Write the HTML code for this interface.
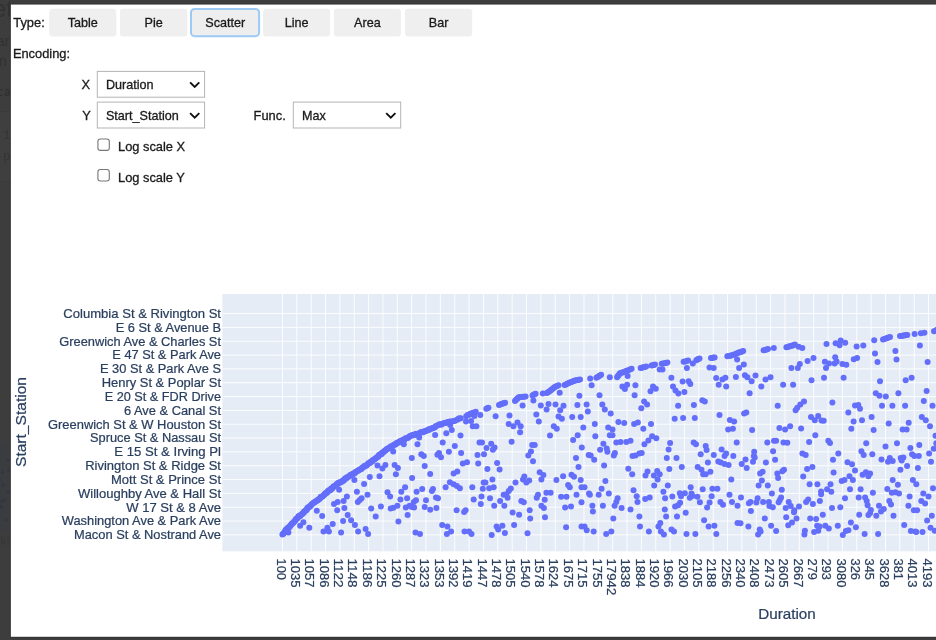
<!DOCTYPE html>
<html><head><meta charset="utf-8"><title>chart</title>
<style>
html,body{margin:0;padding:0}
body{width:936px;height:640px;overflow:hidden;background:#3d3d3d;position:relative;font-family:"Liberation Sans",sans-serif;font-size:12.85px;color:#000}
.ghost{position:absolute;color:#313131;white-space:nowrap;line-height:1}
.band{position:absolute;left:0;top:111px;width:11px;height:69px;background:#3f3f3f;border-top:1px solid #393939;border-bottom:1px solid #393939}
#wrap{position:absolute;left:0;top:0;width:936px;height:640px;overflow:hidden;will-change:transform}
</style></head><body><div id="wrap">
<div class="band"></div>
<div class="ghost" style="left:-6.5px;top:-2.5px;font-size:23px">et</div>
<div class="ghost" style="left:-3px;top:35.4px;font-size:13.9px">ar</div>
<div class="ghost" style="left:-1px;top:55.4px;font-size:13.9px">n</div>
<div class="ghost" style="left:-4px;top:86px;font-size:13px;font-weight:bold;font-family:'Liberation Mono',monospace">ta</div>
<div class="ghost" style="left:-4.5px;top:130px;font-size:12.5px;font-family:'Liberation Mono',monospace;color:#353535">.1</div>
<div class="ghost" style="left:-4.5px;top:151px;font-size:12.5px;font-family:'Liberation Mono',monospace;color:#353535">-p</div>
<svg width="936" height="640" style="position:absolute;left:0;top:0" font-family="Liberation Sans, sans-serif" font-size="12.4px" fill="#2a3f5f" stroke="#2a3f5f" stroke-width="0.22">
<g stroke="none"><rect x="0" y="442" width="11" height="89" fill="#3b3c3f"/>
<g fill="#333543"><circle cx="2.6" cy="472.3" r="1.6"/><circle cx="8.6" cy="470.6" r="1.6"/><circle cx="3.1" cy="485.2" r="1.6"/><circle cx="7.7" cy="492.1" r="1.6"/><circle cx="4.3" cy="499.8" r="1.6"/><circle cx="1.7" cy="501.5" r="1.6"/><circle cx="6" cy="519.6" r="1.6"/><circle cx="7.7" cy="460.3" r="1.6"/><circle cx="0.9" cy="506.7" r="1.6"/></g>
<text transform="translate(0.5,536) rotate(90)" font-size="5px" fill="#343434">1287</text><text transform="translate(7,536) rotate(90)" font-size="5px" fill="#363636">1225</text></g>
<g font-size="12.85px" fill="#1a1a1a" stroke="none"><style>.u text{stroke:#1a1a1a;stroke-width:0.3px}</style><g class="u"><rect x="9.85" y="3.55" width="940" height="634.25" fill="#313131"/><rect x="10.85" y="4.55" width="940" height="632.25" fill="#fff"/><rect x="49.2" y="8.7" width="67.1" height="27.8" rx="3" fill="#efefef"/><text x="82.75" y="26.85" text-anchor="middle" font-size="12.6px">Table</text><rect x="120.0" y="8.7" width="67.3" height="27.8" rx="3" fill="#efefef"/><text x="153.65" y="26.85" text-anchor="middle" font-size="12.6px">Pie</text><rect x="191.0" y="8.9" width="68.1" height="27.3" rx="3.6" fill="#eeeeee" stroke="#9ccaf4" stroke-width="2"/><text x="225.20" y="26.85" text-anchor="middle" font-size="12.6px">Scatter</text><rect x="263.1" y="8.7" width="67.1" height="27.8" rx="3" fill="#efefef"/><text x="296.65" y="26.85" text-anchor="middle" font-size="12.6px">Line</text><rect x="333.9" y="8.7" width="67.0" height="27.8" rx="3" fill="#efefef"/><text x="367.40" y="26.85" text-anchor="middle" font-size="12.6px">Area</text><rect x="405.0" y="8.7" width="67.2" height="27.8" rx="3" fill="#efefef"/><text x="438.60" y="26.85" text-anchor="middle" font-size="12.6px">Bar</text><text x="13.3" y="27.45">Type:</text><text x="12.9" y="58.45">Encoding:</text><rect x="97.3" y="71.4" width="107.3" height="25.8" fill="#fff" stroke="#b4b4b4" stroke-width="1"/><text x="105.9" y="89.1" font-size="12.6px">Duration</text><path d="M190.10 82.40 L194.70 87.00 L199.30 82.40" fill="none" stroke="#111" stroke-width="1.9"/><rect x="97.3" y="102.1" width="107.3" height="25.9" fill="#fff" stroke="#b4b4b4" stroke-width="1"/><text x="105.9" y="119.9" font-size="12.6px">Start_Station</text><path d="M190.10 113.15 L194.70 117.75 L199.30 113.15" fill="none" stroke="#111" stroke-width="1.9"/><rect x="293.3" y="102.1" width="107.4" height="25.9" fill="#fff" stroke="#b4b4b4" stroke-width="1"/><text x="301.9" y="119.9" font-size="12.6px">Max</text><path d="M386.20 113.15 L390.80 117.75 L395.40 113.15" fill="none" stroke="#111" stroke-width="1.9"/><text x="81.6" y="89.2">X</text><text x="82.2" y="119.8">Y</text><text x="253.6" y="119.8">Func.</text><rect x="97.9" y="138.95" width="11.4" height="11.4" rx="2.4" fill="#fff" stroke="#767676" stroke-width="1.1"/><text x="118.0" y="151.3">Log scale X</text><rect x="97.9" y="169.55" width="11.4" height="11.4" rx="2.4" fill="#fff" stroke="#767676" stroke-width="1.1"/><text x="118.0" y="181.9">Log scale Y</text></g></g>
<rect x="222.4" y="294" width="720" height="257.29999999999995" fill="#e5ecf6" stroke="none"/><line x1="282.45" x2="282.45" y1="294" y2="551.3" stroke="#fff" stroke-opacity="0.88" stroke-width="1"/><line x1="296.81" x2="296.81" y1="294" y2="551.3" stroke="#fff" stroke-opacity="0.88" stroke-width="1"/><line x1="311.17" x2="311.17" y1="294" y2="551.3" stroke="#fff" stroke-opacity="0.88" stroke-width="1"/><line x1="325.52" x2="325.52" y1="294" y2="551.3" stroke="#fff" stroke-opacity="0.88" stroke-width="1"/><line x1="339.88" x2="339.88" y1="294" y2="551.3" stroke="#fff" stroke-opacity="0.88" stroke-width="1"/><line x1="354.24" x2="354.24" y1="294" y2="551.3" stroke="#fff" stroke-opacity="0.88" stroke-width="1"/><line x1="368.60" x2="368.60" y1="294" y2="551.3" stroke="#fff" stroke-opacity="0.88" stroke-width="1"/><line x1="382.96" x2="382.96" y1="294" y2="551.3" stroke="#fff" stroke-opacity="0.88" stroke-width="1"/><line x1="397.31" x2="397.31" y1="294" y2="551.3" stroke="#fff" stroke-opacity="0.88" stroke-width="1"/><line x1="411.67" x2="411.67" y1="294" y2="551.3" stroke="#fff" stroke-opacity="0.88" stroke-width="1"/><line x1="426.03" x2="426.03" y1="294" y2="551.3" stroke="#fff" stroke-opacity="0.88" stroke-width="1"/><line x1="440.39" x2="440.39" y1="294" y2="551.3" stroke="#fff" stroke-opacity="0.88" stroke-width="1"/><line x1="454.75" x2="454.75" y1="294" y2="551.3" stroke="#fff" stroke-opacity="0.88" stroke-width="1"/><line x1="469.10" x2="469.10" y1="294" y2="551.3" stroke="#fff" stroke-opacity="0.88" stroke-width="1"/><line x1="483.46" x2="483.46" y1="294" y2="551.3" stroke="#fff" stroke-opacity="0.88" stroke-width="1"/><line x1="497.82" x2="497.82" y1="294" y2="551.3" stroke="#fff" stroke-opacity="0.88" stroke-width="1"/><line x1="512.18" x2="512.18" y1="294" y2="551.3" stroke="#fff" stroke-opacity="0.88" stroke-width="1"/><line x1="526.54" x2="526.54" y1="294" y2="551.3" stroke="#fff" stroke-opacity="0.88" stroke-width="1"/><line x1="540.89" x2="540.89" y1="294" y2="551.3" stroke="#fff" stroke-opacity="0.88" stroke-width="1"/><line x1="555.25" x2="555.25" y1="294" y2="551.3" stroke="#fff" stroke-opacity="0.88" stroke-width="1"/><line x1="569.61" x2="569.61" y1="294" y2="551.3" stroke="#fff" stroke-opacity="0.88" stroke-width="1"/><line x1="583.97" x2="583.97" y1="294" y2="551.3" stroke="#fff" stroke-opacity="0.88" stroke-width="1"/><line x1="598.33" x2="598.33" y1="294" y2="551.3" stroke="#fff" stroke-opacity="0.88" stroke-width="1"/><line x1="612.68" x2="612.68" y1="294" y2="551.3" stroke="#fff" stroke-opacity="0.88" stroke-width="1"/><line x1="627.04" x2="627.04" y1="294" y2="551.3" stroke="#fff" stroke-opacity="0.88" stroke-width="1"/><line x1="641.40" x2="641.40" y1="294" y2="551.3" stroke="#fff" stroke-opacity="0.88" stroke-width="1"/><line x1="655.76" x2="655.76" y1="294" y2="551.3" stroke="#fff" stroke-opacity="0.88" stroke-width="1"/><line x1="670.12" x2="670.12" y1="294" y2="551.3" stroke="#fff" stroke-opacity="0.88" stroke-width="1"/><line x1="684.47" x2="684.47" y1="294" y2="551.3" stroke="#fff" stroke-opacity="0.88" stroke-width="1"/><line x1="698.83" x2="698.83" y1="294" y2="551.3" stroke="#fff" stroke-opacity="0.88" stroke-width="1"/><line x1="713.19" x2="713.19" y1="294" y2="551.3" stroke="#fff" stroke-opacity="0.88" stroke-width="1"/><line x1="727.55" x2="727.55" y1="294" y2="551.3" stroke="#fff" stroke-opacity="0.88" stroke-width="1"/><line x1="741.91" x2="741.91" y1="294" y2="551.3" stroke="#fff" stroke-opacity="0.88" stroke-width="1"/><line x1="756.26" x2="756.26" y1="294" y2="551.3" stroke="#fff" stroke-opacity="0.88" stroke-width="1"/><line x1="770.62" x2="770.62" y1="294" y2="551.3" stroke="#fff" stroke-opacity="0.88" stroke-width="1"/><line x1="784.98" x2="784.98" y1="294" y2="551.3" stroke="#fff" stroke-opacity="0.88" stroke-width="1"/><line x1="799.34" x2="799.34" y1="294" y2="551.3" stroke="#fff" stroke-opacity="0.88" stroke-width="1"/><line x1="813.70" x2="813.70" y1="294" y2="551.3" stroke="#fff" stroke-opacity="0.88" stroke-width="1"/><line x1="828.05" x2="828.05" y1="294" y2="551.3" stroke="#fff" stroke-opacity="0.88" stroke-width="1"/><line x1="842.41" x2="842.41" y1="294" y2="551.3" stroke="#fff" stroke-opacity="0.88" stroke-width="1"/><line x1="856.77" x2="856.77" y1="294" y2="551.3" stroke="#fff" stroke-opacity="0.88" stroke-width="1"/><line x1="871.13" x2="871.13" y1="294" y2="551.3" stroke="#fff" stroke-opacity="0.88" stroke-width="1"/><line x1="885.49" x2="885.49" y1="294" y2="551.3" stroke="#fff" stroke-opacity="0.88" stroke-width="1"/><line x1="899.84" x2="899.84" y1="294" y2="551.3" stroke="#fff" stroke-opacity="0.88" stroke-width="1"/><line x1="914.20" x2="914.20" y1="294" y2="551.3" stroke="#fff" stroke-opacity="0.88" stroke-width="1"/><line x1="928.56" x2="928.56" y1="294" y2="551.3" stroke="#fff" stroke-opacity="0.88" stroke-width="1"/><line x1="942.92" x2="942.92" y1="294" y2="551.3" stroke="#fff" stroke-opacity="0.88" stroke-width="1"/><line x1="222.4" x2="940" y1="534.89" y2="534.89" stroke="#fff" stroke-opacity="0.88" stroke-width="1"/><line x1="222.4" x2="940" y1="521.06" y2="521.06" stroke="#fff" stroke-opacity="0.88" stroke-width="1"/><line x1="222.4" x2="940" y1="507.23" y2="507.23" stroke="#fff" stroke-opacity="0.88" stroke-width="1"/><line x1="222.4" x2="940" y1="493.39" y2="493.39" stroke="#fff" stroke-opacity="0.88" stroke-width="1"/><line x1="222.4" x2="940" y1="479.56" y2="479.56" stroke="#fff" stroke-opacity="0.88" stroke-width="1"/><line x1="222.4" x2="940" y1="465.73" y2="465.73" stroke="#fff" stroke-opacity="0.88" stroke-width="1"/><line x1="222.4" x2="940" y1="451.90" y2="451.90" stroke="#fff" stroke-opacity="0.88" stroke-width="1"/><line x1="222.4" x2="940" y1="438.07" y2="438.07" stroke="#fff" stroke-opacity="0.88" stroke-width="1"/><line x1="222.4" x2="940" y1="424.23" y2="424.23" stroke="#fff" stroke-opacity="0.88" stroke-width="1"/><line x1="222.4" x2="940" y1="410.40" y2="410.40" stroke="#fff" stroke-opacity="0.88" stroke-width="1"/><line x1="222.4" x2="940" y1="396.57" y2="396.57" stroke="#fff" stroke-opacity="0.88" stroke-width="1"/><line x1="222.4" x2="940" y1="382.74" y2="382.74" stroke="#fff" stroke-opacity="0.88" stroke-width="1"/><line x1="222.4" x2="940" y1="368.91" y2="368.91" stroke="#fff" stroke-opacity="0.88" stroke-width="1"/><line x1="222.4" x2="940" y1="355.07" y2="355.07" stroke="#fff" stroke-opacity="0.88" stroke-width="1"/><line x1="222.4" x2="940" y1="341.24" y2="341.24" stroke="#fff" stroke-opacity="0.88" stroke-width="1"/><line x1="222.4" x2="940" y1="327.41" y2="327.41" stroke="#fff" stroke-opacity="0.88" stroke-width="1"/><line x1="222.4" x2="940" y1="313.58" y2="313.58" stroke="#fff" stroke-opacity="0.88" stroke-width="1"/>
<g fill="#636efa" stroke="none"><circle cx="288.4" cy="532.5" r="3"/><circle cx="300.1" cy="525.8" r="3"/><circle cx="303.4" cy="522.3" r="3"/><circle cx="309.3" cy="527.8" r="3"/><circle cx="316.8" cy="510.7" r="3"/><circle cx="322.2" cy="516.1" r="3"/><circle cx="323.5" cy="531.6" r="3"/><circle cx="327.4" cy="527.8" r="3"/><circle cx="328.9" cy="531.6" r="3"/><circle cx="332.7" cy="524.1" r="3"/><circle cx="334.0" cy="504.0" r="3"/><circle cx="337.7" cy="501.9" r="3"/><circle cx="337.2" cy="510.2" r="3"/><circle cx="339.1" cy="489.7" r="3"/><circle cx="341.1" cy="532.5" r="3"/><circle cx="343.1" cy="521.1" r="3"/><circle cx="343.6" cy="501.0" r="3"/><circle cx="344.4" cy="508.1" r="3"/><circle cx="346.9" cy="496.5" r="3"/><circle cx="347.7" cy="514.9" r="3"/><circle cx="351.1" cy="520.3" r="3"/><circle cx="354.4" cy="480.1" r="3"/><circle cx="354.9" cy="524.9" r="3"/><circle cx="356.9" cy="491.8" r="3"/><circle cx="357.8" cy="501.9" r="3"/><circle cx="358.1" cy="531.6" r="3"/><circle cx="359.8" cy="499.9" r="3"/><circle cx="361.6" cy="498.2" r="3"/><circle cx="364.1" cy="484.0" r="3"/><circle cx="365.6" cy="529.1" r="3"/><circle cx="367.5" cy="494.8" r="3"/><circle cx="368.1" cy="534.1" r="3"/><circle cx="369.8" cy="477.1" r="3"/><circle cx="371.2" cy="508.6" r="3"/><circle cx="375.7" cy="516.4" r="3"/><circle cx="377.5" cy="465.6" r="3"/><circle cx="379.5" cy="476.3" r="3"/><circle cx="380.9" cy="506.5" r="3"/><circle cx="382.4" cy="468.4" r="3"/><circle cx="385.4" cy="465.1" r="3"/><circle cx="387.5" cy="492.3" r="3"/><circle cx="390.1" cy="496.5" r="3"/><circle cx="390.7" cy="508.6" r="3"/><circle cx="393.4" cy="507.7" r="3"/><circle cx="393.2" cy="451.4" r="3"/><circle cx="394.6" cy="465.1" r="3"/><circle cx="395.9" cy="474.3" r="3"/><circle cx="397.4" cy="505.7" r="3"/><circle cx="397.9" cy="468.1" r="3"/><circle cx="398.4" cy="521.4" r="3"/><circle cx="400.4" cy="499.4" r="3"/><circle cx="401.3" cy="491.8" r="3"/><circle cx="403.8" cy="444.2" r="3"/><circle cx="405.1" cy="487.3" r="3"/><circle cx="405.8" cy="507.4" r="3"/><circle cx="407.1" cy="498.2" r="3"/><circle cx="407.6" cy="514.9" r="3"/><circle cx="409.6" cy="505.7" r="3"/><circle cx="411.8" cy="457.9" r="3"/><circle cx="412.1" cy="478.1" r="3"/><circle cx="411.8" cy="506.9" r="3"/><circle cx="414.1" cy="507.4" r="3"/><circle cx="413.8" cy="501.9" r="3"/><circle cx="416.0" cy="500.2" r="3"/><circle cx="415.5" cy="532.5" r="3"/><circle cx="416.6" cy="491.8" r="3"/><circle cx="417.5" cy="444.2" r="3"/><circle cx="420.0" cy="534.1" r="3"/><circle cx="421.3" cy="454.2" r="3"/><circle cx="422.2" cy="489.0" r="3"/><circle cx="423.8" cy="455.9" r="3"/><circle cx="424.7" cy="465.9" r="3"/><circle cx="424.7" cy="506.9" r="3"/><circle cx="426.0" cy="500.2" r="3"/><circle cx="442.7" cy="442.5" r="3"/><circle cx="454.8" cy="445.9" r="3"/><circle cx="479.5" cy="442.5" r="3"/><circle cx="482.0" cy="442.5" r="3"/><circle cx="491.2" cy="443.7" r="3"/><circle cx="486.5" cy="447.9" r="3"/><circle cx="494.6" cy="447.5" r="3"/><circle cx="492.9" cy="449.7" r="3"/><circle cx="511.6" cy="441.7" r="3"/><circle cx="532.2" cy="445.0" r="3"/><circle cx="534.7" cy="445.0" r="3"/><circle cx="531.0" cy="451.4" r="3"/><circle cx="528.3" cy="455.5" r="3"/><circle cx="573.1" cy="440.0" r="3"/><circle cx="437.4" cy="454.7" r="3"/><circle cx="439.0" cy="453.0" r="3"/><circle cx="441.0" cy="457.2" r="3"/><circle cx="448.9" cy="451.7" r="3"/><circle cx="461.1" cy="453.0" r="3"/><circle cx="477.5" cy="455.0" r="3"/><circle cx="484.0" cy="454.2" r="3"/><circle cx="533.0" cy="461.2" r="3"/><circle cx="576.0" cy="457.9" r="3"/><circle cx="581.8" cy="447.5" r="3"/><circle cx="462.8" cy="463.4" r="3"/><circle cx="467.0" cy="462.2" r="3"/><circle cx="478.2" cy="463.4" r="3"/><circle cx="497.1" cy="463.1" r="3"/><circle cx="487.4" cy="468.9" r="3"/><circle cx="499.6" cy="469.6" r="3"/><circle cx="578.5" cy="467.1" r="3"/><circle cx="430.2" cy="473.9" r="3"/><circle cx="453.6" cy="473.4" r="3"/><circle cx="457.3" cy="471.4" r="3"/><circle cx="539.7" cy="472.3" r="3"/><circle cx="543.4" cy="475.1" r="3"/><circle cx="524.3" cy="476.5" r="3"/><circle cx="563.1" cy="476.3" r="3"/><circle cx="571.5" cy="474.8" r="3"/><circle cx="574.0" cy="476.8" r="3"/><circle cx="492.4" cy="479.6" r="3"/><circle cx="523.0" cy="479.6" r="3"/><circle cx="526.3" cy="482.6" r="3"/><circle cx="529.2" cy="480.5" r="3"/><circle cx="541.4" cy="479.6" r="3"/><circle cx="556.4" cy="480.1" r="3"/><circle cx="580.7" cy="480.1" r="3"/><circle cx="515.5" cy="482.6" r="3"/><circle cx="483.7" cy="482.6" r="3"/><circle cx="485.4" cy="482.6" r="3"/><circle cx="449.9" cy="482.3" r="3"/><circle cx="453.6" cy="484.3" r="3"/><circle cx="456.9" cy="486.0" r="3"/><circle cx="459.9" cy="488.2" r="3"/><circle cx="445.6" cy="487.3" r="3"/><circle cx="472.3" cy="487.3" r="3"/><circle cx="482.8" cy="488.8" r="3"/><circle cx="489.2" cy="488.2" r="3"/><circle cx="493.7" cy="487.3" r="3"/><circle cx="510.8" cy="488.5" r="3"/><circle cx="508.8" cy="491.0" r="3"/><circle cx="568.1" cy="485.1" r="3"/><circle cx="569.8" cy="487.3" r="3"/><circle cx="581.5" cy="487.3" r="3"/><circle cx="433.0" cy="489.0" r="3"/><circle cx="431.9" cy="491.0" r="3"/><circle cx="503.7" cy="494.7" r="3"/><circle cx="506.3" cy="494.3" r="3"/><circle cx="507.6" cy="497.7" r="3"/><circle cx="546.4" cy="492.7" r="3"/><circle cx="550.6" cy="492.7" r="3"/><circle cx="538.0" cy="494.8" r="3"/><circle cx="536.7" cy="497.7" r="3"/><circle cx="576.5" cy="494.8" r="3"/><circle cx="481.5" cy="496.5" r="3"/><circle cx="561.1" cy="496.8" r="3"/><circle cx="566.5" cy="496.8" r="3"/><circle cx="436.0" cy="497.4" r="3"/><circle cx="438.0" cy="498.2" r="3"/><circle cx="490.0" cy="498.2" r="3"/><circle cx="473.7" cy="499.4" r="3"/><circle cx="544.7" cy="499.7" r="3"/><circle cx="500.1" cy="501.0" r="3"/><circle cx="521.3" cy="501.0" r="3"/><circle cx="523.8" cy="502.2" r="3"/><circle cx="480.8" cy="504.0" r="3"/><circle cx="494.2" cy="505.7" r="3"/><circle cx="504.3" cy="505.7" r="3"/><circle cx="541.4" cy="505.7" r="3"/><circle cx="543.9" cy="508.1" r="3"/><circle cx="565.1" cy="507.4" r="3"/><circle cx="571.0" cy="506.5" r="3"/><circle cx="436.4" cy="508.1" r="3"/><circle cx="430.2" cy="509.7" r="3"/><circle cx="456.6" cy="510.2" r="3"/><circle cx="465.6" cy="510.2" r="3"/><circle cx="464.1" cy="511.9" r="3"/><circle cx="529.7" cy="510.2" r="3"/><circle cx="512.6" cy="512.4" r="3"/><circle cx="519.1" cy="514.7" r="3"/><circle cx="545.0" cy="517.2" r="3"/><circle cx="530.2" cy="518.6" r="3"/><circle cx="442.2" cy="524.9" r="3"/><circle cx="447.4" cy="526.4" r="3"/><circle cx="496.6" cy="526.4" r="3"/><circle cx="498.2" cy="529.5" r="3"/><circle cx="502.4" cy="525.8" r="3"/><circle cx="514.1" cy="524.9" r="3"/><circle cx="566.1" cy="527.3" r="3"/><circle cx="451.1" cy="531.6" r="3"/><circle cx="446.9" cy="534.0" r="3"/><circle cx="464.5" cy="531.6" r="3"/><circle cx="469.1" cy="531.6" r="3"/><circle cx="471.5" cy="534.1" r="3"/><circle cx="491.7" cy="535.0" r="3"/><circle cx="504.9" cy="533.1" r="3"/><circle cx="527.5" cy="533.3" r="3"/><circle cx="581.5" cy="502.2" r="3"/><circle cx="581.5" cy="526.4" r="3"/><circle cx="603.4" cy="443.7" r="3"/><circle cx="600.1" cy="449.7" r="3"/><circle cx="606.7" cy="448.4" r="3"/><circle cx="607.4" cy="451.7" r="3"/><circle cx="616.3" cy="442.5" r="3"/><circle cx="620.5" cy="442.0" r="3"/><circle cx="626.3" cy="442.0" r="3"/><circle cx="630.5" cy="440.8" r="3"/><circle cx="644.4" cy="444.2" r="3"/><circle cx="648.4" cy="440.5" r="3"/><circle cx="670.1" cy="443.0" r="3"/><circle cx="668.6" cy="449.5" r="3"/><circle cx="693.7" cy="442.5" r="3"/><circle cx="696.0" cy="444.2" r="3"/><circle cx="705.7" cy="445.9" r="3"/><circle cx="706.6" cy="450.0" r="3"/><circle cx="721.6" cy="449.5" r="3"/><circle cx="736.7" cy="442.5" r="3"/><circle cx="588.7" cy="455.0" r="3"/><circle cx="590.7" cy="455.4" r="3"/><circle cx="594.2" cy="459.7" r="3"/><circle cx="614.9" cy="453.0" r="3"/><circle cx="613.8" cy="455.5" r="3"/><circle cx="632.5" cy="455.9" r="3"/><circle cx="635.5" cy="455.5" r="3"/><circle cx="639.4" cy="453.4" r="3"/><circle cx="641.7" cy="453.0" r="3"/><circle cx="666.8" cy="457.9" r="3"/><circle cx="676.5" cy="457.9" r="3"/><circle cx="700.7" cy="454.2" r="3"/><circle cx="713.8" cy="455.0" r="3"/><circle cx="726.1" cy="453.4" r="3"/><circle cx="724.6" cy="455.9" r="3"/><circle cx="733.3" cy="455.9" r="3"/><circle cx="707.9" cy="462.6" r="3"/><circle cx="718.3" cy="461.4" r="3"/><circle cx="720.8" cy="462.6" r="3"/><circle cx="724.5" cy="463.9" r="3"/><circle cx="728.6" cy="465.1" r="3"/><circle cx="604.1" cy="465.6" r="3"/><circle cx="628.3" cy="468.8" r="3"/><circle cx="681.8" cy="467.1" r="3"/><circle cx="669.3" cy="468.9" r="3"/><circle cx="697.7" cy="467.1" r="3"/><circle cx="701.5" cy="469.8" r="3"/><circle cx="632.2" cy="474.3" r="3"/><circle cx="647.5" cy="471.4" r="3"/><circle cx="645.5" cy="475.6" r="3"/><circle cx="657.2" cy="470.9" r="3"/><circle cx="659.7" cy="474.3" r="3"/><circle cx="653.9" cy="475.6" r="3"/><circle cx="657.6" cy="479.6" r="3"/><circle cx="710.4" cy="471.8" r="3"/><circle cx="703.2" cy="474.3" r="3"/><circle cx="705.7" cy="474.3" r="3"/><circle cx="731.3" cy="479.6" r="3"/><circle cx="605.4" cy="481.0" r="3"/><circle cx="654.2" cy="485.5" r="3"/><circle cx="667.8" cy="485.5" r="3"/><circle cx="584.5" cy="487.3" r="3"/><circle cx="601.6" cy="488.8" r="3"/><circle cx="633.5" cy="490.2" r="3"/><circle cx="690.7" cy="487.3" r="3"/><circle cx="702.7" cy="489.3" r="3"/><circle cx="712.4" cy="488.8" r="3"/><circle cx="717.4" cy="488.8" r="3"/><circle cx="663.4" cy="491.8" r="3"/><circle cx="589.0" cy="493.5" r="3"/><circle cx="589.9" cy="494.8" r="3"/><circle cx="598.7" cy="494.8" r="3"/><circle cx="608.8" cy="493.5" r="3"/><circle cx="679.8" cy="493.2" r="3"/><circle cx="684.8" cy="493.2" r="3"/><circle cx="681.0" cy="496.3" r="3"/><circle cx="691.5" cy="493.5" r="3"/><circle cx="692.4" cy="496.0" r="3"/><circle cx="689.8" cy="497.7" r="3"/><circle cx="697.4" cy="496.8" r="3"/><circle cx="729.5" cy="494.8" r="3"/><circle cx="636.7" cy="496.3" r="3"/><circle cx="672.3" cy="496.5" r="3"/><circle cx="665.1" cy="498.2" r="3"/><circle cx="649.7" cy="497.4" r="3"/><circle cx="645.2" cy="498.9" r="3"/><circle cx="617.6" cy="498.2" r="3"/><circle cx="616.3" cy="501.9" r="3"/><circle cx="614.6" cy="505.7" r="3"/><circle cx="711.6" cy="496.3" r="3"/><circle cx="637.5" cy="501.9" r="3"/><circle cx="680.1" cy="502.7" r="3"/><circle cx="678.1" cy="505.2" r="3"/><circle cx="675.1" cy="506.5" r="3"/><circle cx="699.9" cy="502.2" r="3"/><circle cx="709.6" cy="502.4" r="3"/><circle cx="720.4" cy="501.9" r="3"/><circle cx="723.0" cy="504.7" r="3"/><circle cx="732.0" cy="501.9" r="3"/><circle cx="737.5" cy="505.7" r="3"/><circle cx="592.4" cy="505.7" r="3"/><circle cx="602.9" cy="505.7" r="3"/><circle cx="621.6" cy="508.1" r="3"/><circle cx="630.5" cy="509.4" r="3"/><circle cx="664.8" cy="509.4" r="3"/><circle cx="707.1" cy="507.4" r="3"/><circle cx="592.9" cy="511.4" r="3"/><circle cx="685.7" cy="512.7" r="3"/><circle cx="639.4" cy="516.6" r="3"/><circle cx="666.1" cy="516.6" r="3"/><circle cx="677.0" cy="516.6" r="3"/><circle cx="613.3" cy="518.6" r="3"/><circle cx="704.1" cy="520.3" r="3"/><circle cx="660.3" cy="523.1" r="3"/><circle cx="658.4" cy="526.4" r="3"/><circle cx="640.0" cy="526.6" r="3"/><circle cx="708.6" cy="526.4" r="3"/><circle cx="714.4" cy="525.8" r="3"/><circle cx="584.5" cy="526.4" r="3"/><circle cx="586.7" cy="530.3" r="3"/><circle cx="593.7" cy="531.6" r="3"/><circle cx="606.2" cy="534.1" r="3"/><circle cx="611.3" cy="531.6" r="3"/><circle cx="648.9" cy="531.6" r="3"/><circle cx="660.9" cy="531.6" r="3"/><circle cx="663.9" cy="534.5" r="3"/><circle cx="671.5" cy="529.5" r="3"/><circle cx="674.0" cy="531.6" r="3"/><circle cx="686.5" cy="534.1" r="3"/><circle cx="695.4" cy="534.1" r="3"/><circle cx="716.3" cy="534.1" r="3"/><circle cx="737.5" cy="523.1" r="3"/><circle cx="767.3" cy="442.5" r="3"/><circle cx="773.9" cy="440.8" r="3"/><circle cx="776.1" cy="440.8" r="3"/><circle cx="783.5" cy="442.5" r="3"/><circle cx="787.3" cy="442.8" r="3"/><circle cx="809.1" cy="442.0" r="3"/><circle cx="828.3" cy="440.8" r="3"/><circle cx="830.0" cy="443.0" r="3"/><circle cx="866.2" cy="443.3" r="3"/><circle cx="885.5" cy="446.4" r="3"/><circle cx="754.2" cy="451.7" r="3"/><circle cx="753.9" cy="455.9" r="3"/><circle cx="773.1" cy="451.2" r="3"/><circle cx="802.4" cy="453.4" r="3"/><circle cx="805.7" cy="455.0" r="3"/><circle cx="838.3" cy="453.4" r="3"/><circle cx="861.4" cy="451.2" r="3"/><circle cx="863.7" cy="455.0" r="3"/><circle cx="872.3" cy="454.2" r="3"/><circle cx="745.5" cy="459.6" r="3"/><circle cx="754.7" cy="457.6" r="3"/><circle cx="753.0" cy="461.7" r="3"/><circle cx="775.1" cy="459.7" r="3"/><circle cx="833.0" cy="459.7" r="3"/><circle cx="881.5" cy="459.6" r="3"/><circle cx="889.8" cy="457.9" r="3"/><circle cx="888.0" cy="461.7" r="3"/><circle cx="892.7" cy="460.9" r="3"/><circle cx="741.7" cy="463.9" r="3"/><circle cx="746.7" cy="467.9" r="3"/><circle cx="765.9" cy="462.6" r="3"/><circle cx="847.5" cy="462.2" r="3"/><circle cx="852.0" cy="464.2" r="3"/><circle cx="812.4" cy="467.1" r="3"/><circle cx="807.1" cy="468.9" r="3"/><circle cx="784.0" cy="469.8" r="3"/><circle cx="782.3" cy="471.3" r="3"/><circle cx="855.0" cy="470.4" r="3"/><circle cx="762.6" cy="471.8" r="3"/><circle cx="760.1" cy="473.4" r="3"/><circle cx="777.3" cy="473.4" r="3"/><circle cx="778.1" cy="478.1" r="3"/><circle cx="833.6" cy="472.6" r="3"/><circle cx="865.9" cy="472.3" r="3"/><circle cx="870.1" cy="473.4" r="3"/><circle cx="862.6" cy="474.8" r="3"/><circle cx="868.4" cy="476.3" r="3"/><circle cx="803.2" cy="476.5" r="3"/><circle cx="849.5" cy="476.3" r="3"/><circle cx="761.9" cy="480.5" r="3"/><circle cx="844.5" cy="480.1" r="3"/><circle cx="841.7" cy="481.0" r="3"/><circle cx="852.9" cy="480.1" r="3"/><circle cx="892.7" cy="480.1" r="3"/><circle cx="758.6" cy="485.5" r="3"/><circle cx="767.8" cy="485.5" r="3"/><circle cx="809.6" cy="484.3" r="3"/><circle cx="817.4" cy="484.3" r="3"/><circle cx="830.5" cy="484.3" r="3"/><circle cx="781.8" cy="489.7" r="3"/><circle cx="827.1" cy="489.3" r="3"/><circle cx="831.3" cy="491.8" r="3"/><circle cx="850.0" cy="489.3" r="3"/><circle cx="860.6" cy="489.3" r="3"/><circle cx="887.3" cy="489.0" r="3"/><circle cx="821.1" cy="491.5" r="3"/><circle cx="821.1" cy="494.3" r="3"/><circle cx="771.9" cy="493.5" r="3"/><circle cx="872.9" cy="492.7" r="3"/><circle cx="891.8" cy="492.7" r="3"/><circle cx="741.0" cy="497.4" r="3"/><circle cx="757.6" cy="498.2" r="3"/><circle cx="756.4" cy="502.4" r="3"/><circle cx="781.1" cy="497.4" r="3"/><circle cx="779.8" cy="499.9" r="3"/><circle cx="778.6" cy="502.2" r="3"/><circle cx="845.0" cy="498.2" r="3"/><circle cx="858.7" cy="497.4" r="3"/><circle cx="865.1" cy="497.4" r="3"/><circle cx="866.7" cy="501.0" r="3"/><circle cx="867.6" cy="505.2" r="3"/><circle cx="808.2" cy="499.4" r="3"/><circle cx="806.1" cy="501.9" r="3"/><circle cx="750.5" cy="501.9" r="3"/><circle cx="748.9" cy="503.2" r="3"/><circle cx="763.1" cy="501.9" r="3"/><circle cx="768.9" cy="501.9" r="3"/><circle cx="769.4" cy="506.0" r="3"/><circle cx="788.7" cy="501.9" r="3"/><circle cx="790.7" cy="506.0" r="3"/><circle cx="819.9" cy="501.0" r="3"/><circle cx="889.3" cy="501.0" r="3"/><circle cx="891.0" cy="504.4" r="3"/><circle cx="772.8" cy="507.2" r="3"/><circle cx="785.7" cy="508.1" r="3"/><circle cx="799.0" cy="506.4" r="3"/><circle cx="812.9" cy="504.0" r="3"/><circle cx="879.0" cy="505.7" r="3"/><circle cx="832.0" cy="508.1" r="3"/><circle cx="840.3" cy="507.2" r="3"/><circle cx="794.3" cy="510.2" r="3"/><circle cx="794.0" cy="512.2" r="3"/><circle cx="750.9" cy="511.1" r="3"/><circle cx="870.9" cy="509.9" r="3"/><circle cx="870.1" cy="513.1" r="3"/><circle cx="868.4" cy="514.9" r="3"/><circle cx="883.8" cy="508.9" r="3"/><circle cx="881.0" cy="511.4" r="3"/><circle cx="876.3" cy="515.7" r="3"/><circle cx="859.2" cy="514.7" r="3"/><circle cx="822.8" cy="514.7" r="3"/><circle cx="893.5" cy="515.7" r="3"/><circle cx="786.2" cy="517.2" r="3"/><circle cx="764.8" cy="518.6" r="3"/><circle cx="796.5" cy="518.6" r="3"/><circle cx="810.2" cy="518.6" r="3"/><circle cx="816.1" cy="518.9" r="3"/><circle cx="740.5" cy="523.3" r="3"/><circle cx="792.0" cy="522.4" r="3"/><circle cx="788.2" cy="525.3" r="3"/><circle cx="850.9" cy="522.4" r="3"/><circle cx="748.4" cy="526.4" r="3"/><circle cx="771.1" cy="525.8" r="3"/><circle cx="817.1" cy="525.8" r="3"/><circle cx="819.6" cy="526.6" r="3"/><circle cx="818.3" cy="530.8" r="3"/><circle cx="814.1" cy="532.0" r="3"/><circle cx="825.3" cy="525.8" r="3"/><circle cx="828.8" cy="528.6" r="3"/><circle cx="837.8" cy="525.8" r="3"/><circle cx="855.9" cy="527.3" r="3"/><circle cx="759.7" cy="529.5" r="3"/><circle cx="760.6" cy="531.6" r="3"/><circle cx="758.1" cy="534.5" r="3"/><circle cx="776.1" cy="531.1" r="3"/><circle cx="804.9" cy="530.8" r="3"/><circle cx="804.4" cy="534.5" r="3"/><circle cx="848.4" cy="530.3" r="3"/><circle cx="845.8" cy="531.1" r="3"/><circle cx="842.8" cy="535.0" r="3"/><circle cx="864.6" cy="534.1" r="3"/><circle cx="878.1" cy="534.1" r="3"/><circle cx="897.0" cy="443.3" r="3"/><circle cx="910.4" cy="447.9" r="3"/><circle cx="919.3" cy="445.0" r="3"/><circle cx="933.8" cy="448.7" r="3"/><circle cx="936.3" cy="443.3" r="3"/><circle cx="900.7" cy="457.9" r="3"/><circle cx="903.4" cy="457.6" r="3"/><circle cx="901.7" cy="460.6" r="3"/><circle cx="912.1" cy="454.2" r="3"/><circle cx="914.3" cy="455.9" r="3"/><circle cx="918.8" cy="455.9" r="3"/><circle cx="929.1" cy="453.4" r="3"/><circle cx="931.0" cy="461.7" r="3"/><circle cx="907.1" cy="465.9" r="3"/><circle cx="900.4" cy="469.8" r="3"/><circle cx="917.9" cy="467.9" r="3"/><circle cx="897.9" cy="484.8" r="3"/><circle cx="912.9" cy="480.1" r="3"/><circle cx="916.3" cy="484.3" r="3"/><circle cx="933.0" cy="488.2" r="3"/><circle cx="895.4" cy="492.3" r="3"/><circle cx="899.0" cy="493.5" r="3"/><circle cx="923.3" cy="493.5" r="3"/><circle cx="909.6" cy="496.5" r="3"/><circle cx="928.5" cy="496.5" r="3"/><circle cx="921.3" cy="501.0" r="3"/><circle cx="925.1" cy="503.5" r="3"/><circle cx="908.4" cy="505.7" r="3"/><circle cx="913.8" cy="510.2" r="3"/><circle cx="917.1" cy="510.2" r="3"/><circle cx="931.8" cy="515.7" r="3"/><circle cx="927.1" cy="520.6" r="3"/><circle cx="904.2" cy="524.9" r="3"/><circle cx="930.5" cy="527.8" r="3"/><circle cx="934.7" cy="530.8" r="3"/><circle cx="910.9" cy="531.1" r="3"/><circle cx="915.4" cy="531.6" r="3"/><circle cx="916.3" cy="532.0" r="3"/><circle cx="922.5" cy="532.0" r="3"/><circle cx="419.2" cy="437.5" r="3"/><circle cx="435.1" cy="435.0" r="3"/><circle cx="446.3" cy="433.3" r="3"/><circle cx="451.8" cy="430.0" r="3"/><circle cx="450.2" cy="425.0" r="3"/><circle cx="460.5" cy="435.5" r="3"/><circle cx="466.0" cy="421.6" r="3"/><circle cx="471.1" cy="421.1" r="3"/><circle cx="472.7" cy="426.3" r="3"/><circle cx="476.4" cy="426.3" r="3"/><circle cx="474.4" cy="416.1" r="3"/><circle cx="480.3" cy="414.9" r="3"/><circle cx="495.6" cy="416.3" r="3"/><circle cx="509.5" cy="415.4" r="3"/><circle cx="508.7" cy="424.1" r="3"/><circle cx="513.4" cy="426.3" r="3"/><circle cx="517.5" cy="422.5" r="3"/><circle cx="520.7" cy="426.3" r="3"/><circle cx="520.1" cy="432.2" r="3"/><circle cx="522.6" cy="405.4" r="3"/><circle cx="533.4" cy="400.4" r="3"/><circle cx="536.3" cy="414.4" r="3"/><circle cx="538.8" cy="421.6" r="3"/><circle cx="540.8" cy="405.4" r="3"/><circle cx="546.6" cy="409.6" r="3"/><circle cx="548.5" cy="404.1" r="3"/><circle cx="550.0" cy="435.5" r="3"/><circle cx="553.8" cy="426.3" r="3"/><circle cx="555.5" cy="404.6" r="3"/><circle cx="559.7" cy="392.7" r="3"/><circle cx="579.4" cy="395.7" r="3"/><circle cx="591.6" cy="385.2" r="3"/><circle cx="599.5" cy="395.2" r="3"/><circle cx="563.5" cy="405.7" r="3"/><circle cx="560.2" cy="410.2" r="3"/><circle cx="577.4" cy="404.9" r="3"/><circle cx="586.6" cy="404.4" r="3"/><circle cx="587.8" cy="411.6" r="3"/><circle cx="602.3" cy="404.4" r="3"/><circle cx="604.8" cy="409.6" r="3"/><circle cx="610.7" cy="413.6" r="3"/><circle cx="558.5" cy="416.6" r="3"/><circle cx="561.9" cy="418.8" r="3"/><circle cx="572.2" cy="417.1" r="3"/><circle cx="580.7" cy="417.1" r="3"/><circle cx="556.8" cy="428.8" r="3"/><circle cx="583.3" cy="427.5" r="3"/><circle cx="594.8" cy="424.1" r="3"/><circle cx="577.7" cy="435.3" r="3"/><circle cx="595.3" cy="436.2" r="3"/><circle cx="608.2" cy="427.5" r="3"/><circle cx="612.5" cy="429.6" r="3"/><circle cx="609.8" cy="435.3" r="3"/><circle cx="612.5" cy="435.3" r="3"/><circle cx="618.4" cy="422.0" r="3"/><circle cx="624.2" cy="423.0" r="3"/><circle cx="622.4" cy="386.5" r="3"/><circle cx="624.9" cy="389.0" r="3"/><circle cx="627.1" cy="384.8" r="3"/><circle cx="635.4" cy="385.2" r="3"/><circle cx="634.6" cy="395.2" r="3"/><circle cx="634.1" cy="424.1" r="3"/><circle cx="637.9" cy="422.5" r="3"/><circle cx="643.3" cy="428.8" r="3"/><circle cx="644.1" cy="401.6" r="3"/><circle cx="647.1" cy="404.4" r="3"/><circle cx="641.3" cy="408.2" r="3"/><circle cx="651.0" cy="424.1" r="3"/><circle cx="653.0" cy="386.5" r="3"/><circle cx="655.8" cy="388.7" r="3"/><circle cx="650.5" cy="391.2" r="3"/><circle cx="652.1" cy="436.3" r="3"/><circle cx="656.3" cy="438.3" r="3"/><circle cx="671.4" cy="377.8" r="3"/><circle cx="673.0" cy="386.5" r="3"/><circle cx="675.5" cy="390.4" r="3"/><circle cx="678.4" cy="393.5" r="3"/><circle cx="682.6" cy="381.5" r="3"/><circle cx="688.6" cy="381.2" r="3"/><circle cx="690.3" cy="384.0" r="3"/><circle cx="684.4" cy="391.9" r="3"/><circle cx="686.9" cy="368.1" r="3"/><circle cx="678.1" cy="405.7" r="3"/><circle cx="674.7" cy="418.8" r="3"/><circle cx="683.1" cy="417.9" r="3"/><circle cx="694.8" cy="417.9" r="3"/><circle cx="693.9" cy="404.9" r="3"/><circle cx="702.3" cy="400.2" r="3"/><circle cx="704.8" cy="401.6" r="3"/><circle cx="627.6" cy="376.1" r="3"/><circle cx="659.7" cy="369.5" r="3"/><circle cx="662.5" cy="369.5" r="3"/><circle cx="692.8" cy="363.6" r="3"/><circle cx="709.5" cy="367.6" r="3"/><circle cx="737.1" cy="359.4" r="3"/><circle cx="743.8" cy="364.4" r="3"/><circle cx="739.1" cy="368.1" r="3"/><circle cx="713.7" cy="368.1" r="3"/><circle cx="716.2" cy="378.1" r="3"/><circle cx="722.4" cy="379.5" r="3"/><circle cx="725.4" cy="377.8" r="3"/><circle cx="718.7" cy="384.8" r="3"/><circle cx="726.2" cy="386.5" r="3"/><circle cx="735.9" cy="377.0" r="3"/><circle cx="744.9" cy="375.3" r="3"/><circle cx="747.4" cy="377.3" r="3"/><circle cx="751.6" cy="381.2" r="3"/><circle cx="755.5" cy="375.6" r="3"/><circle cx="765.5" cy="379.5" r="3"/><circle cx="770.5" cy="377.3" r="3"/><circle cx="761.3" cy="386.5" r="3"/><circle cx="749.6" cy="393.2" r="3"/><circle cx="783.1" cy="384.8" r="3"/><circle cx="793.1" cy="384.8" r="3"/><circle cx="791.4" cy="368.1" r="3"/><circle cx="799.8" cy="363.9" r="3"/><circle cx="797.8" cy="368.1" r="3"/><circle cx="807.6" cy="360.9" r="3"/><circle cx="813.5" cy="358.1" r="3"/><circle cx="811.5" cy="380.3" r="3"/><circle cx="824.0" cy="377.8" r="3"/><circle cx="824.9" cy="361.8" r="3"/><circle cx="829.0" cy="363.6" r="3"/><circle cx="826.0" cy="368.1" r="3"/><circle cx="835.2" cy="357.2" r="3"/><circle cx="836.6" cy="361.4" r="3"/><circle cx="834.6" cy="363.6" r="3"/><circle cx="842.4" cy="363.9" r="3"/><circle cx="846.3" cy="364.8" r="3"/><circle cx="843.6" cy="377.8" r="3"/><circle cx="853.8" cy="359.3" r="3"/><circle cx="857.1" cy="358.1" r="3"/><circle cx="777.7" cy="405.7" r="3"/><circle cx="804.0" cy="401.6" r="3"/><circle cx="800.3" cy="404.6" r="3"/><circle cx="797.3" cy="407.7" r="3"/><circle cx="795.6" cy="410.2" r="3"/><circle cx="832.4" cy="402.4" r="3"/><circle cx="855.0" cy="405.4" r="3"/><circle cx="858.3" cy="404.9" r="3"/><circle cx="860.0" cy="408.7" r="3"/><circle cx="848.3" cy="412.4" r="3"/><circle cx="719.5" cy="414.9" r="3"/><circle cx="746.3" cy="412.4" r="3"/><circle cx="744.1" cy="413.6" r="3"/><circle cx="729.9" cy="419.9" r="3"/><circle cx="734.1" cy="421.6" r="3"/><circle cx="811.0" cy="417.1" r="3"/><circle cx="814.8" cy="420.3" r="3"/><circle cx="818.2" cy="416.1" r="3"/><circle cx="821.5" cy="420.4" r="3"/><circle cx="823.7" cy="420.8" r="3"/><circle cx="853.6" cy="421.6" r="3"/><circle cx="862.0" cy="420.3" r="3"/><circle cx="728.2" cy="429.5" r="3"/><circle cx="732.9" cy="428.8" r="3"/><circle cx="752.1" cy="430.0" r="3"/><circle cx="779.4" cy="428.0" r="3"/><circle cx="785.1" cy="429.6" r="3"/><circle cx="790.1" cy="426.3" r="3"/><circle cx="801.1" cy="428.6" r="3"/><circle cx="851.3" cy="428.8" r="3"/><circle cx="815.3" cy="435.3" r="3"/><circle cx="875.0" cy="353.4" r="3"/><circle cx="877.5" cy="361.9" r="3"/><circle cx="895.4" cy="350.9" r="3"/><circle cx="896.5" cy="359.4" r="3"/><circle cx="919.9" cy="345.5" r="3"/><circle cx="927.6" cy="361.9" r="3"/><circle cx="880.0" cy="381.2" r="3"/><circle cx="905.7" cy="380.3" r="3"/><circle cx="911.6" cy="377.8" r="3"/><circle cx="875.8" cy="393.2" r="3"/><circle cx="879.5" cy="395.7" r="3"/><circle cx="885.8" cy="396.5" r="3"/><circle cx="898.4" cy="393.2" r="3"/><circle cx="926.6" cy="391.0" r="3"/><circle cx="882.0" cy="405.7" r="3"/><circle cx="892.4" cy="405.7" r="3"/><circle cx="905.1" cy="405.7" r="3"/><circle cx="923.8" cy="401.1" r="3"/><circle cx="932.5" cy="405.7" r="3"/><circle cx="871.6" cy="417.1" r="3"/><circle cx="888.7" cy="423.6" r="3"/><circle cx="908.7" cy="422.8" r="3"/><circle cx="921.8" cy="417.1" r="3"/><circle cx="925.8" cy="420.3" r="3"/><circle cx="930.0" cy="426.3" r="3"/><circle cx="873.6" cy="430.0" r="3"/><circle cx="902.6" cy="429.5" r="3"/><circle cx="906.6" cy="429.5" r="3"/><circle cx="935.5" cy="435.8" r="3"/><circle cx="282.4" cy="534.6" r="3"/><circle cx="283.1" cy="534.1" r="3"/><circle cx="283.6" cy="533.2" r="3"/><circle cx="284.4" cy="532.6" r="3"/><circle cx="285.0" cy="531.9" r="3"/><circle cx="285.3" cy="530.6" r="3"/><circle cx="285.8" cy="529.8" r="3"/><circle cx="286.9" cy="529.8" r="3"/><circle cx="287.2" cy="528.6" r="3"/><circle cx="287.9" cy="527.8" r="3"/><circle cx="289.0" cy="527.8" r="3"/><circle cx="289.4" cy="526.6" r="3"/><circle cx="290.2" cy="526.2" r="3"/><circle cx="290.7" cy="525.1" r="3"/><circle cx="291.5" cy="524.5" r="3"/><circle cx="291.9" cy="523.4" r="3"/><circle cx="292.8" cy="523.1" r="3"/><circle cx="293.6" cy="522.6" r="3"/><circle cx="294.1" cy="521.5" r="3"/><circle cx="294.9" cy="521.0" r="3"/><circle cx="295.5" cy="520.2" r="3"/><circle cx="295.9" cy="518.9" r="3"/><circle cx="296.9" cy="518.8" r="3"/><circle cx="297.6" cy="518.0" r="3"/><circle cx="298.1" cy="517.1" r="3"/><circle cx="298.7" cy="516.1" r="3"/><circle cx="299.9" cy="516.2" r="3"/><circle cx="300.4" cy="515.2" r="3"/><circle cx="301.2" cy="514.7" r="3"/><circle cx="302.0" cy="514.2" r="3"/><circle cx="302.6" cy="513.4" r="3"/><circle cx="303.5" cy="512.9" r="3"/><circle cx="303.9" cy="511.7" r="3"/><circle cx="304.8" cy="511.4" r="3"/><circle cx="305.3" cy="510.4" r="3"/><circle cx="306.3" cy="510.2" r="3"/><circle cx="307.0" cy="509.5" r="3"/><circle cx="307.3" cy="508.1" r="3"/><circle cx="308.0" cy="507.5" r="3"/><circle cx="308.8" cy="506.9" r="3"/><circle cx="309.9" cy="506.8" r="3"/><circle cx="310.3" cy="505.7" r="3"/><circle cx="311.2" cy="505.2" r="3"/><circle cx="311.7" cy="504.2" r="3"/><circle cx="312.6" cy="503.8" r="3"/><circle cx="313.3" cy="503.1" r="3"/><circle cx="314.0" cy="502.4" r="3"/><circle cx="314.9" cy="502.0" r="3"/><circle cx="315.7" cy="501.4" r="3"/><circle cx="316.6" cy="501.1" r="3"/><circle cx="317.2" cy="500.3" r="3"/><circle cx="318.1" cy="499.9" r="3"/><circle cx="318.9" cy="499.2" r="3"/><circle cx="319.7" cy="498.8" r="3"/><circle cx="320.3" cy="497.9" r="3"/><circle cx="320.8" cy="496.8" r="3"/><circle cx="322.0" cy="496.7" r="3"/><circle cx="322.8" cy="496.2" r="3"/><circle cx="323.6" cy="495.5" r="3"/><circle cx="324.2" cy="494.6" r="3"/><circle cx="325.1" cy="494.1" r="3"/><circle cx="325.6" cy="493.0" r="3"/><circle cx="326.7" cy="492.9" r="3"/><circle cx="327.4" cy="492.0" r="3"/><circle cx="328.0" cy="491.1" r="3"/><circle cx="328.7" cy="490.3" r="3"/><circle cx="329.9" cy="490.4" r="3"/><circle cx="330.8" cy="489.8" r="3"/><circle cx="331.1" cy="488.4" r="3"/><circle cx="332.3" cy="488.4" r="3"/><circle cx="332.9" cy="487.4" r="3"/><circle cx="333.5" cy="486.5" r="3"/><circle cx="334.4" cy="486.0" r="3"/><circle cx="335.5" cy="485.8" r="3"/><circle cx="336.3" cy="485.3" r="3"/><circle cx="336.7" cy="483.9" r="3"/><circle cx="337.8" cy="483.9" r="3"/><circle cx="338.3" cy="482.8" r="3"/><circle cx="339.5" cy="482.9" r="3"/><circle cx="340.2" cy="482.0" r="3"/><circle cx="341.3" cy="482.0" r="3"/><circle cx="342.2" cy="481.6" r="3"/><circle cx="342.8" cy="480.6" r="3"/><circle cx="343.9" cy="480.5" r="3"/><circle cx="344.3" cy="479.4" r="3"/><circle cx="345.0" cy="478.6" r="3"/><circle cx="346.2" cy="478.5" r="3"/><circle cx="346.7" cy="477.4" r="3"/><circle cx="347.6" cy="477.0" r="3"/><circle cx="348.6" cy="476.7" r="3"/><circle cx="349.5" cy="476.3" r="3"/><circle cx="350.1" cy="475.3" r="3"/><circle cx="350.9" cy="474.7" r="3"/><circle cx="352.1" cy="474.8" r="3"/><circle cx="352.7" cy="473.8" r="3"/><circle cx="353.8" cy="473.8" r="3"/><circle cx="354.6" cy="473.2" r="3"/><circle cx="355.2" cy="472.2" r="3"/><circle cx="356.1" cy="471.7" r="3"/><circle cx="357.0" cy="471.3" r="3"/><circle cx="357.9" cy="470.8" r="3"/><circle cx="358.7" cy="470.2" r="3"/><circle cx="359.5" cy="469.7" r="3"/><circle cx="360.3" cy="469.2" r="3"/><circle cx="361.4" cy="468.9" r="3"/><circle cx="362.0" cy="468.0" r="3"/><circle cx="362.7" cy="467.4" r="3"/><circle cx="363.7" cy="467.1" r="3"/><circle cx="364.3" cy="466.1" r="3"/><circle cx="365.2" cy="465.7" r="3"/><circle cx="366.4" cy="465.7" r="3"/><circle cx="367.0" cy="464.8" r="3"/><circle cx="367.8" cy="464.3" r="3"/><circle cx="368.4" cy="463.2" r="3"/><circle cx="369.4" cy="463.1" r="3"/><circle cx="370.3" cy="462.7" r="3"/><circle cx="370.8" cy="461.5" r="3"/><circle cx="372.0" cy="461.4" r="3"/><circle cx="372.8" cy="460.8" r="3"/><circle cx="373.2" cy="459.7" r="3"/><circle cx="374.3" cy="459.5" r="3"/><circle cx="375.1" cy="458.7" r="3"/><circle cx="376.0" cy="458.3" r="3"/><circle cx="376.6" cy="457.4" r="3"/><circle cx="377.6" cy="457.0" r="3"/><circle cx="378.4" cy="456.4" r="3"/><circle cx="378.8" cy="455.2" r="3"/><circle cx="379.6" cy="454.5" r="3"/><circle cx="380.7" cy="454.5" r="3"/><circle cx="381.7" cy="454.1" r="3"/><circle cx="382.1" cy="452.8" r="3"/><circle cx="383.0" cy="452.4" r="3"/><circle cx="383.9" cy="451.8" r="3"/><circle cx="384.5" cy="451.0" r="3"/><circle cx="385.3" cy="450.4" r="3"/><circle cx="386.1" cy="449.7" r="3"/><circle cx="386.9" cy="449.1" r="3"/><circle cx="387.9" cy="448.8" r="3"/><circle cx="388.6" cy="448.0" r="3"/><circle cx="389.5" cy="447.6" r="3"/><circle cx="390.5" cy="447.4" r="3"/><circle cx="391.0" cy="446.3" r="3"/><circle cx="392.1" cy="446.3" r="3"/><circle cx="393.0" cy="445.9" r="3"/><circle cx="393.6" cy="445.0" r="3"/><circle cx="394.4" cy="444.5" r="3"/><circle cx="395.6" cy="444.5" r="3"/><circle cx="396.1" cy="443.5" r="3"/><circle cx="396.9" cy="442.9" r="3"/><circle cx="397.9" cy="442.6" r="3"/><circle cx="398.9" cy="442.4" r="3"/><circle cx="399.5" cy="441.4" r="3"/><circle cx="400.5" cy="441.1" r="3"/><circle cx="401.5" cy="440.6" r="3"/><circle cx="402.7" cy="440.6" r="3"/><circle cx="403.4" cy="439.8" r="3"/><circle cx="404.5" cy="439.7" r="3"/><circle cx="405.1" cy="438.6" r="3"/><circle cx="406.1" cy="438.3" r="3"/><circle cx="407.2" cy="438.1" r="3"/><circle cx="408.2" cy="437.8" r="3"/><circle cx="408.9" cy="437.0" r="3"/><circle cx="409.7" cy="436.3" r="3"/><circle cx="410.6" cy="435.7" r="3"/><circle cx="411.7" cy="435.6" r="3"/><circle cx="412.5" cy="435.0" r="3"/><circle cx="413.8" cy="435.3" r="3"/><circle cx="414.7" cy="435.0" r="3"/><circle cx="415.3" cy="434.1" r="3"/><circle cx="416.3" cy="433.9" r="3"/><circle cx="417.6" cy="434.1" r="3"/><circle cx="418.4" cy="433.6" r="3"/><circle cx="419.5" cy="433.5" r="3"/><circle cx="420.2" cy="432.8" r="3"/><circle cx="421.0" cy="432.3" r="3"/><circle cx="422.0" cy="432.1" r="3"/><circle cx="423.3" cy="432.3" r="3"/><circle cx="423.9" cy="431.5" r="3"/><circle cx="424.9" cy="431.3" r="3"/><circle cx="425.9" cy="430.9" r="3"/><circle cx="426.8" cy="430.5" r="3"/><circle cx="427.7" cy="430.1" r="3"/><circle cx="428.9" cy="430.1" r="3"/><circle cx="429.4" cy="429.0" r="3"/><circle cx="431.6" cy="428.8" r="3"/><circle cx="432.3" cy="428.0" r="3"/><circle cx="433.4" cy="428.0" r="3"/><circle cx="434.3" cy="427.4" r="3"/><circle cx="435.1" cy="427.0" r="3"/><circle cx="435.8" cy="426.2" r="3"/><circle cx="436.7" cy="425.7" r="3"/><circle cx="438.6" cy="424.9" r="3"/><circle cx="439.3" cy="424.3" r="3"/><circle cx="440.6" cy="424.5" r="3"/><circle cx="441.7" cy="424.4" r="3"/><circle cx="442.5" cy="423.8" r="3"/><circle cx="444.2" cy="422.9" r="3"/><circle cx="445.5" cy="423.1" r="3"/><circle cx="446.3" cy="422.6" r="3"/><circle cx="447.4" cy="422.5" r="3"/><circle cx="448.2" cy="421.9" r="3"/><circle cx="449.3" cy="421.8" r="3"/><circle cx="450.2" cy="421.4" r="3"/><circle cx="452.4" cy="421.3" r="3"/><circle cx="454.4" cy="420.9" r="3"/><circle cx="455.4" cy="420.5" r="3"/><circle cx="457.2" cy="419.8" r="3"/><circle cx="458.7" cy="418.6" r="3"/><circle cx="459.7" cy="418.4" r="3"/><circle cx="460.7" cy="418.3" r="3"/><circle cx="466.2" cy="416.3" r="3"/><circle cx="467.7" cy="415.1" r="3"/><circle cx="468.6" cy="414.7" r="3"/><circle cx="469.6" cy="414.6" r="3"/><circle cx="470.3" cy="413.9" r="3"/><circle cx="471.2" cy="413.4" r="3"/><circle cx="472.4" cy="413.6" r="3"/><circle cx="472.9" cy="412.7" r="3"/><circle cx="475.0" cy="412.4" r="3"/><circle cx="475.8" cy="411.8" r="3"/><circle cx="486.3" cy="408.7" r="3"/><circle cx="487.4" cy="408.2" r="3"/><circle cx="488.4" cy="407.8" r="3"/><circle cx="499.0" cy="405.0" r="3"/><circle cx="500.2" cy="404.5" r="3"/><circle cx="501.4" cy="404.1" r="3"/><circle cx="502.7" cy="403.6" r="3"/><circle cx="503.9" cy="403.2" r="3"/><circle cx="505.1" cy="402.7" r="3"/><circle cx="515.0" cy="400.9" r="3"/><circle cx="515.9" cy="400.0" r="3"/><circle cx="516.9" cy="399.1" r="3"/><circle cx="517.8" cy="398.2" r="3"/><circle cx="518.8" cy="397.3" r="3"/><circle cx="520.1" cy="397.1" r="3"/><circle cx="521.5" cy="397.0" r="3"/><circle cx="522.9" cy="396.8" r="3"/><circle cx="524.2" cy="396.7" r="3"/><circle cx="525.6" cy="396.5" r="3"/><circle cx="532.5" cy="395.4" r="3"/><circle cx="533.5" cy="394.8" r="3"/><circle cx="534.6" cy="394.3" r="3"/><circle cx="535.6" cy="393.8" r="3"/><circle cx="542.8" cy="393.5" r="3"/><circle cx="546.9" cy="393.1" r="3"/><circle cx="548.0" cy="392.3" r="3"/><circle cx="549.1" cy="391.6" r="3"/><circle cx="550.2" cy="390.8" r="3"/><circle cx="551.2" cy="390.0" r="3"/><circle cx="552.3" cy="389.1" r="3"/><circle cx="553.4" cy="388.2" r="3"/><circle cx="554.4" cy="387.2" r="3"/><circle cx="555.8" cy="386.6" r="3"/><circle cx="557.1" cy="385.9" r="3"/><circle cx="558.5" cy="385.2" r="3"/><circle cx="564.6" cy="385.0" r="3"/><circle cx="566.0" cy="384.4" r="3"/><circle cx="567.3" cy="383.8" r="3"/><circle cx="568.6" cy="383.1" r="3"/><circle cx="570.0" cy="382.5" r="3"/><circle cx="571.2" cy="382.0" r="3"/><circle cx="572.5" cy="381.6" r="3"/><circle cx="573.8" cy="381.1" r="3"/><circle cx="575.0" cy="380.6" r="3"/><circle cx="576.2" cy="380.3" r="3"/><circle cx="577.5" cy="380.0" r="3"/><circle cx="578.8" cy="379.7" r="3"/><circle cx="580.0" cy="379.4" r="3"/><circle cx="590.2" cy="378.5" r="3"/><circle cx="596.4" cy="377.8" r="3"/><circle cx="597.6" cy="377.0" r="3"/><circle cx="598.8" cy="376.2" r="3"/><circle cx="599.9" cy="375.5" r="3"/><circle cx="601.1" cy="374.7" r="3"/><circle cx="609.8" cy="377.3" r="3"/><circle cx="617.1" cy="377.2" r="3"/><circle cx="617.8" cy="376.3" r="3"/><circle cx="618.5" cy="375.3" r="3"/><circle cx="619.3" cy="374.3" r="3"/><circle cx="620.0" cy="373.3" r="3"/><circle cx="621.2" cy="372.8" r="3"/><circle cx="622.5" cy="372.4" r="3"/><circle cx="623.8" cy="371.9" r="3"/><circle cx="625.0" cy="371.5" r="3"/><circle cx="626.2" cy="371.0" r="3"/><circle cx="627.6" cy="370.4" r="3"/><circle cx="628.9" cy="369.9" r="3"/><circle cx="630.3" cy="369.3" r="3"/><circle cx="631.6" cy="368.7" r="3"/><circle cx="640.6" cy="368.1" r="3"/><circle cx="641.9" cy="367.7" r="3"/><circle cx="643.1" cy="367.2" r="3"/><circle cx="644.7" cy="366.9" r="3"/><circle cx="646.2" cy="366.5" r="3"/><circle cx="651.5" cy="365.6" r="3"/><circle cx="652.7" cy="365.3" r="3"/><circle cx="653.8" cy="364.9" r="3"/><circle cx="655.0" cy="364.6" r="3"/><circle cx="661.7" cy="363.8" r="3"/><circle cx="663.1" cy="363.5" r="3"/><circle cx="664.5" cy="363.2" r="3"/><circle cx="666.0" cy="362.9" r="3"/><circle cx="667.4" cy="362.6" r="3"/><circle cx="683.6" cy="361.8" r="3"/><circle cx="685.1" cy="361.4" r="3"/><circle cx="686.6" cy="361.0" r="3"/><circle cx="688.1" cy="360.6" r="3"/><circle cx="696.3" cy="360.2" r="3"/><circle cx="697.4" cy="359.6" r="3"/><circle cx="698.4" cy="359.0" r="3"/><circle cx="699.5" cy="358.4" r="3"/><circle cx="711.0" cy="358.1" r="3"/><circle cx="712.2" cy="357.9" r="3"/><circle cx="713.4" cy="357.6" r="3"/><circle cx="714.6" cy="357.4" r="3"/><circle cx="727.3" cy="356.2" r="3"/><circle cx="728.6" cy="356.0" r="3"/><circle cx="729.9" cy="355.7" r="3"/><circle cx="731.2" cy="355.5" r="3"/><circle cx="732.7" cy="354.9" r="3"/><circle cx="734.2" cy="354.4" r="3"/><circle cx="735.6" cy="353.9" r="3"/><circle cx="737.1" cy="353.3" r="3"/><circle cx="738.3" cy="352.8" r="3"/><circle cx="739.5" cy="352.3" r="3"/><circle cx="740.8" cy="351.9" r="3"/><circle cx="742.0" cy="351.4" r="3"/><circle cx="743.2" cy="350.9" r="3"/><circle cx="763.6" cy="350.3" r="3"/><circle cx="765.1" cy="349.9" r="3"/><circle cx="766.5" cy="349.4" r="3"/><circle cx="768.0" cy="349.0" r="3"/><circle cx="773.8" cy="348.0" r="3"/><circle cx="786.4" cy="347.2" r="3"/><circle cx="787.6" cy="346.9" r="3"/><circle cx="788.8" cy="346.6" r="3"/><circle cx="790.0" cy="346.3" r="3"/><circle cx="791.2" cy="346.0" r="3"/><circle cx="792.5" cy="345.5" r="3"/><circle cx="793.7" cy="345.0" r="3"/><circle cx="794.9" cy="344.5" r="3"/><circle cx="798.6" cy="346.8" r="3"/><circle cx="802.3" cy="348.1" r="3"/><circle cx="826.5" cy="344.1" r="3"/><circle cx="835.6" cy="343.2" r="3"/><circle cx="840.7" cy="340.5" r="3"/><circle cx="839.6" cy="345.2" r="3"/><circle cx="845.2" cy="342.7" r="3"/><circle cx="856.6" cy="346.4" r="3"/><circle cx="863.3" cy="345.5" r="3"/><circle cx="874.2" cy="340.2" r="3"/><circle cx="883.0" cy="339.4" r="3"/><circle cx="884.4" cy="338.9" r="3"/><circle cx="885.8" cy="338.4" r="3"/><circle cx="887.2" cy="338.0" r="3"/><circle cx="888.6" cy="337.5" r="3"/><circle cx="890.0" cy="337.0" r="3"/><circle cx="900.0" cy="336.1" r="3"/><circle cx="901.5" cy="335.9" r="3"/><circle cx="902.9" cy="335.6" r="3"/><circle cx="904.4" cy="335.4" r="3"/><circle cx="905.8" cy="335.1" r="3"/><circle cx="907.3" cy="334.9" r="3"/><circle cx="914.6" cy="334.1" r="3"/><circle cx="920.9" cy="333.3" r="3"/><circle cx="924.4" cy="332.7" r="3"/><circle cx="934.0" cy="331.3" r="3"/><circle cx="935.3" cy="330.7" r="3"/><circle cx="936.7" cy="330.1" r="3"/><circle cx="938.0" cy="329.5" r="3"/></g>
<text x="221" y="539.24" text-anchor="end" textLength="147.0" lengthAdjust="spacingAndGlyphs">Macon St &amp; Nostrand Ave</text><text x="221" y="525.41" text-anchor="end" textLength="159.2" lengthAdjust="spacingAndGlyphs">Washington Ave &amp; Park Ave</text><text x="221" y="511.58" text-anchor="end" textLength="94.8" lengthAdjust="spacingAndGlyphs">W 17 St &amp; 8 Ave</text><text x="221" y="497.74" text-anchor="end" textLength="143.0" lengthAdjust="spacingAndGlyphs">Willoughby Ave &amp; Hall St</text><text x="221" y="483.91" text-anchor="end" textLength="110.0" lengthAdjust="spacingAndGlyphs">Mott St &amp; Prince St</text><text x="221" y="470.08" text-anchor="end" textLength="135.8" lengthAdjust="spacingAndGlyphs">Rivington St &amp; Ridge St</text><text x="221" y="456.25" text-anchor="end" textLength="106.7" lengthAdjust="spacingAndGlyphs">E 15 St &amp; Irving Pl</text><text x="221" y="442.42" text-anchor="end" textLength="131.0" lengthAdjust="spacingAndGlyphs">Spruce St &amp; Nassau St</text><text x="221" y="428.58" text-anchor="end" textLength="173.0" lengthAdjust="spacingAndGlyphs">Greenwich St &amp; W Houston St</text><text x="221" y="414.75" text-anchor="end" textLength="97.0" lengthAdjust="spacingAndGlyphs">6 Ave &amp; Canal St</text><text x="221" y="400.92" text-anchor="end" textLength="116.3" lengthAdjust="spacingAndGlyphs">E 20 St &amp; FDR Drive</text><text x="221" y="387.09" text-anchor="end" textLength="119.3" lengthAdjust="spacingAndGlyphs">Henry St &amp; Poplar St</text><text x="221" y="373.26" text-anchor="end" textLength="121.0" lengthAdjust="spacingAndGlyphs">E 30 St &amp; Park Ave S</text><text x="221" y="359.42" text-anchor="end" textLength="108.7" lengthAdjust="spacingAndGlyphs">E 47 St &amp; Park Ave</text><text x="221" y="345.59" text-anchor="end" textLength="161.7" lengthAdjust="spacingAndGlyphs">Greenwich Ave &amp; Charles St</text><text x="221" y="331.76" text-anchor="end" textLength="105.3" lengthAdjust="spacingAndGlyphs">E 6 St &amp; Avenue B</text><text x="221" y="317.93" text-anchor="end" textLength="157.7" lengthAdjust="spacingAndGlyphs">Columbia St &amp; Rivington St</text><text transform="translate(276.65,558.5) rotate(90)" textLength="21.5" lengthAdjust="spacingAndGlyphs">100</text><text transform="translate(291.01,558.5) rotate(90)" textLength="29.1" lengthAdjust="spacingAndGlyphs">1035</text><text transform="translate(305.37,558.5) rotate(90)" textLength="29.1" lengthAdjust="spacingAndGlyphs">1057</text><text transform="translate(319.72,558.5) rotate(90)" textLength="29.1" lengthAdjust="spacingAndGlyphs">1086</text><text transform="translate(334.08,558.5) rotate(90)" textLength="29.1" lengthAdjust="spacingAndGlyphs">1122</text><text transform="translate(348.44,558.5) rotate(90)" textLength="29.1" lengthAdjust="spacingAndGlyphs">1148</text><text transform="translate(362.80,558.5) rotate(90)" textLength="29.1" lengthAdjust="spacingAndGlyphs">1186</text><text transform="translate(377.16,558.5) rotate(90)" textLength="29.1" lengthAdjust="spacingAndGlyphs">1225</text><text transform="translate(391.51,558.5) rotate(90)" textLength="29.1" lengthAdjust="spacingAndGlyphs">1260</text><text transform="translate(405.87,558.5) rotate(90)" textLength="29.1" lengthAdjust="spacingAndGlyphs">1287</text><text transform="translate(420.23,558.5) rotate(90)" textLength="29.1" lengthAdjust="spacingAndGlyphs">1323</text><text transform="translate(434.59,558.5) rotate(90)" textLength="29.1" lengthAdjust="spacingAndGlyphs">1353</text><text transform="translate(448.95,558.5) rotate(90)" textLength="29.1" lengthAdjust="spacingAndGlyphs">1392</text><text transform="translate(463.30,558.5) rotate(90)" textLength="29.1" lengthAdjust="spacingAndGlyphs">1419</text><text transform="translate(477.66,558.5) rotate(90)" textLength="29.1" lengthAdjust="spacingAndGlyphs">1447</text><text transform="translate(492.02,558.5) rotate(90)" textLength="29.1" lengthAdjust="spacingAndGlyphs">1478</text><text transform="translate(506.38,558.5) rotate(90)" textLength="29.1" lengthAdjust="spacingAndGlyphs">1505</text><text transform="translate(520.74,558.5) rotate(90)" textLength="29.1" lengthAdjust="spacingAndGlyphs">1540</text><text transform="translate(535.09,558.5) rotate(90)" textLength="29.1" lengthAdjust="spacingAndGlyphs">1578</text><text transform="translate(549.45,558.5) rotate(90)" textLength="29.1" lengthAdjust="spacingAndGlyphs">1624</text><text transform="translate(563.81,558.5) rotate(90)" textLength="29.1" lengthAdjust="spacingAndGlyphs">1675</text><text transform="translate(578.17,558.5) rotate(90)" textLength="29.1" lengthAdjust="spacingAndGlyphs">1715</text><text transform="translate(592.53,558.5) rotate(90)" textLength="29.1" lengthAdjust="spacingAndGlyphs">1755</text><text transform="translate(606.88,558.5) rotate(90)" textLength="36.8" lengthAdjust="spacingAndGlyphs">17942</text><text transform="translate(621.24,558.5) rotate(90)" textLength="29.1" lengthAdjust="spacingAndGlyphs">1838</text><text transform="translate(635.60,558.5) rotate(90)" textLength="29.1" lengthAdjust="spacingAndGlyphs">1884</text><text transform="translate(649.96,558.5) rotate(90)" textLength="29.1" lengthAdjust="spacingAndGlyphs">1920</text><text transform="translate(664.32,558.5) rotate(90)" textLength="29.1" lengthAdjust="spacingAndGlyphs">1966</text><text transform="translate(678.67,558.5) rotate(90)" textLength="29.1" lengthAdjust="spacingAndGlyphs">2030</text><text transform="translate(693.03,558.5) rotate(90)" textLength="29.1" lengthAdjust="spacingAndGlyphs">2105</text><text transform="translate(707.39,558.5) rotate(90)" textLength="29.1" lengthAdjust="spacingAndGlyphs">2188</text><text transform="translate(721.75,558.5) rotate(90)" textLength="29.1" lengthAdjust="spacingAndGlyphs">2256</text><text transform="translate(736.11,558.5) rotate(90)" textLength="29.1" lengthAdjust="spacingAndGlyphs">2340</text><text transform="translate(750.46,558.5) rotate(90)" textLength="29.1" lengthAdjust="spacingAndGlyphs">2408</text><text transform="translate(764.82,558.5) rotate(90)" textLength="29.1" lengthAdjust="spacingAndGlyphs">2473</text><text transform="translate(779.18,558.5) rotate(90)" textLength="29.1" lengthAdjust="spacingAndGlyphs">2605</text><text transform="translate(793.54,558.5) rotate(90)" textLength="29.1" lengthAdjust="spacingAndGlyphs">2667</text><text transform="translate(807.90,558.5) rotate(90)" textLength="21.5" lengthAdjust="spacingAndGlyphs">279</text><text transform="translate(822.25,558.5) rotate(90)" textLength="21.5" lengthAdjust="spacingAndGlyphs">293</text><text transform="translate(836.61,558.5) rotate(90)" textLength="29.1" lengthAdjust="spacingAndGlyphs">3080</text><text transform="translate(850.97,558.5) rotate(90)" textLength="21.5" lengthAdjust="spacingAndGlyphs">326</text><text transform="translate(865.33,558.5) rotate(90)" textLength="21.5" lengthAdjust="spacingAndGlyphs">345</text><text transform="translate(879.69,558.5) rotate(90)" textLength="29.1" lengthAdjust="spacingAndGlyphs">3628</text><text transform="translate(894.04,558.5) rotate(90)" textLength="21.5" lengthAdjust="spacingAndGlyphs">381</text><text transform="translate(908.40,558.5) rotate(90)" textLength="29.1" lengthAdjust="spacingAndGlyphs">4013</text><text transform="translate(922.76,558.5) rotate(90)" textLength="29.1" lengthAdjust="spacingAndGlyphs">4193</text>
<text x="787" y="619" text-anchor="middle" font-size="14.6px" textLength="57.5" lengthAdjust="spacingAndGlyphs">Duration</text>
<text transform="translate(26,422) rotate(-90)" text-anchor="middle" font-size="14.6px" textLength="90" lengthAdjust="spacingAndGlyphs">Start_Station</text>
</svg>
</div></body></html>
